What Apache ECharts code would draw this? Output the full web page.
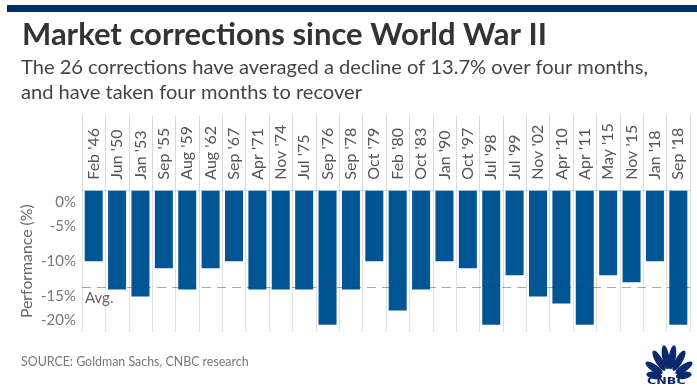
<!DOCTYPE html>
<html><head><meta charset="utf-8">
<style>html,body{margin:0;padding:0;background:#fff}#c{width:697px;height:390px}</style>
<script src="https://cdn.jsdelivr.net/npm/echarts@6/dist/echarts.min.js"></script>
</head><body><div id="c"></div>
<script>
const categories = ["Feb '46","Jun '50","Jan '53","Sep '55","Aug '59","Aug '62","Sep '67","Apr '71","Nov '74","Jul '75","Sep '76","Sep '78","Oct '79","Feb '80","Oct '83","Jan '90","Oct '97","Jul '98","Jul '99","Nov '02","Apr '10","Apr '11","May '15","Nov '15","Jan '18","Sep '18"];
const performance = [-10,-14,-15,-11,-14,-11,-10,-14,-14,-14,-19,-14,-10,-17,-14,-10,-11,-19,-12,-15,-16,-19,-12,-13,-10,-19];
const average = -13.7;
const titleText = "Market corrections since World War II";
const subtitleLines = ["The 26 corrections have averaged a decline of 13.7% over four months,","and have taken four months to recover"];
const sourceText = "SOURCE: Goldman Sachs, CNBC research";
const FONT = "Lato";
const chart = echarts.init(document.getElementById('c'), null, {renderer:'canvas'});
const NAVY = '#0b2a6b';
const cx = 669, cy = 378;
const feathers = [[-80,11,5],[-56,14,5],[-30,16,5],[-9,17,5],[9,17,5],[30,16,5],[56,14,5],[80,11,5]];
chart.setOption({
 animation:false,
 backgroundColor:'#fff',
 grid:{left:82,right:7,top:190.7,height:141,containLabel:false},
 xAxis:{type:'category',position:'top',data:categories,
  axisLine:{show:true,lineStyle:{color:'#dcdcdc',width:1}},
  axisTick:{show:true,length:76,lineStyle:{color:'#b5b5b5',type:'dotted',width:1}},
  axisLabel:{rotate:90,interval:0,margin:11,color:'#555',fontFamily:FONT,fontSize:16},
  splitLine:{show:true,lineStyle:{color:'#c4c4c4',type:'dotted',width:1}}
 },
 yAxis:{type:'value',min:-20,max:0,interval:5,
  name:'Performance (%)',nameLocation:'middle',nameRotate:90,nameGap:47,nameMoveOverlap:false,
  nameTextStyle:{color:'#666',fontFamily:FONT,fontSize:15.8},
  axisLine:{show:false},axisTick:{show:false},splitLine:{show:false},
  axisLabel:{margin:6,color:'#777',fontFamily:FONT,fontSize:15,
   verticalAlignMaxLabel:'top',verticalAlignMinLabel:'bottom',
   formatter:v=> v===0?'{t|0%}':(v===-20?'{b|-20%}':v+'%'),
   rich:{t:{padding:[4,0,0,0],color:'#777',fontFamily:FONT,fontSize:15},b:{padding:[0,0,4,0],color:'#777',fontFamily:FONT,fontSize:15}}}
 },
 series:[{type:'bar',data:performance,barWidth:18,
  itemStyle:{color:'#005594'},
  markLine:{silent:true,symbol:'none',z:10,
   lineStyle:{color:'rgba(60,60,60,0.45)',type:[9,6],width:1.2},
   data:[{yAxis:average,label:{show:true,position:'insideStartBottom',formatter:'Avg.',color:'#666',fontFamily:FONT,fontSize:15,distance:[3,3]}}]}
 }],
 graphic:[
  {type:'rect',left:7,top:5,shape:{width:690,height:7},style:{fill:'#002f6c'}},
  {type:'text',left:22,top:19,style:{text:titleText,fill:'#333',font:'700 31px '+FONT}},
  {type:'text',left:21,top:58,style:{text:subtitleLines[0],fill:'#444',font:'400 20.1px '+FONT}},
  {type:'text',left:21,top:83,style:{text:subtitleLines[1],fill:'#444',font:'400 20.1px '+FONT}},
  {type:'text',left:21,top:356,style:{text:sourceText,fill:'#777',font:'400 12.4px '+FONT}},
  ...feathers.map(f=>{
    const a=f[0]*Math.PI/180, d=f[1]+4;
    return {type:'ellipse',x:cx+Math.sin(a)*d,y:cy-Math.cos(a)*d,rotation:-a,
      shape:{cx:0,cy:0,rx:3.6,ry:f[1]*0.72},style:{fill:NAVY}};
  }),
  {type:'text',x:647,y:377,scaleX:1.4,style:{text:'CNBC',fill:NAVY,font:'900 9px "DejaVu Sans"'}}
 ]
});
</script></body></html>
